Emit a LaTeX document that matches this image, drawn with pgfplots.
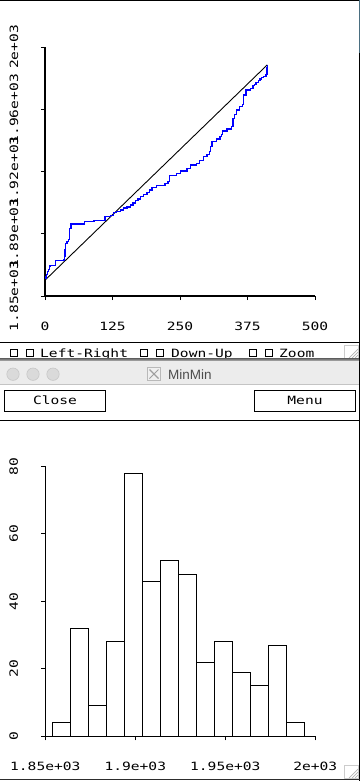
\documentclass[border=0pt]{standalone}
\usepackage{fontspec}
\usepackage{pgfplots}
\pgfplotsset{compat=1.18}
\setmainfont{DejaVu Sans Mono}[FakeStretch=1.28]
\newfontfamily\titlefont{Liberation Sans}
\newcommand\tk{\fontsize{11.4pt}{13pt}\selectfont}
\definecolor{tbar}{HTML}{ECECEC}
\definecolor{tline}{HTML}{C4C4C4}
\definecolor{circ}{HTML}{DADADA}
\definecolor{circline}{HTML}{C6C6C6}
\definecolor{ttext}{HTML}{4D4D4D}
\definecolor{edgeblue}{HTML}{4A6E80}
\begin{document}
\begin{tikzpicture}[x=1pt,y=1pt]
\useasboundingbox (0,0) rectangle (360,-781);
\fill[white] (0,0) rectangle (360,-781);
% window frame bits
\draw[black, line width=1.2pt] (0,-0.6) -- (360,-0.6);
\draw[edgeblue, line width=1pt] (359.5,0) -- (359.5,-53);
\draw[black, line width=1pt] (359.5,-53) -- (359.5,-781);

% ---------- top plot ----------
\begin{axis}[at={(45pt,-296pt)}, anchor=south west, scale only axis,
  width=270pt, height=249pt,
  xmin=0, xmax=500, ymin=1850, ymax=2000,
  axis x line*=bottom, axis y line*=left,
  axis line style={-},
  x axis line style={line width=1.5pt},
  y axis line style={line width=2pt},
  xtick={0,125,250,375,500}, xticklabels={0,125,250,375,500},
  ytick={1850,1887.5,1925,1962.5,2000},
  yticklabels={1.85e+03,1.89e+03,1.92e+03,1.96e+03,2e+03},
  tick align=outside, major tick length=4pt,
  tick style={black, line width=1pt},
  xticklabel style={anchor=center, yshift=-26.5pt, font=\tk},
  yticklabel style={anchor=center, xshift=-27pt, rotate=90, font=\tk},
  clip=false]
\addplot[black, line width=0.9pt] coordinates {(0,1859.5) (411.5,1989.2)};
\addplot[blue, line width=1.3pt, const plot] coordinates {
(0,1860.5) (2,1861.5) (3,1863) (4,1864.6) (6,1866.1) (8,1868) (10,1868.5)
(20,1871.3) (35,1871.7) (36,1873.7) (37,1878) (38,1881.7) (41,1883) (43,1884)
(45,1888) (46,1890.8) (48,1893.4) (72,1893.8) (73,1894.8) (91,1895.3)
(100,1895.6) (111,1897.8) (121,1898.6) (127,1900.2) (133,1901) (140,1901.8)
(146,1903) (152,1903.6) (158,1904.8) (163,1906) (168,1907.5) (172,1908.5)
(177,1909.8) (183,1911) (189,1912.2) (194,1913.9) (198,1915.2) (207,1916.5)
(222,1917.9) (228,1918.9) (231,1922.5) (244,1923.9) (251,1925.3) (263,1926.9)
(270,1928.9) (281,1929.9) (286,1931.7) (293,1933.9) (300,1935.4) (305,1936.9)
(307,1940) (309,1943) (318,1944.6) (324,1946) (327,1947.5) (329,1949.4)
(337,1950.6) (345,1952) (348,1957) (351,1959.5) (354,1962) (360,1964)
(366,1965.5) (368,1971) (372,1974.1) (380,1975.1) (385,1976.7) (388,1977.6)
(391,1978.7) (395,1979.7) (398,1980.7) (401,1981.5) (404,1982.3) (409,1983.5)
(411,1987.5) (411.5,1989.2)};
\end{axis}

% ---------- checkbox row ----------
\draw[black, line width=1.2pt] (0,-342.5) -- (359,-342.5);
\foreach \bx in {10,26,140,156,249,265}{
  \draw[black, line width=1pt] (\bx+0.5,-349.5) rectangle (\bx+7.5,-356.5);
}
\node[anchor=base west, inner sep=0] at (40,-357.5) {\tk Left-Right};
\node[anchor=base west, inner sep=0] at (171,-357.5) {\tk Down-Up};
\node[anchor=base west, inner sep=0] at (279,-357.5) {\tk Zoom};
% resize grip (top)
\draw[gray!40, line width=0.8pt] (344.5,-345.5) rectangle (358.5,-358.5);
\foreach \d in {3,6,9}{\draw[gray!60, line width=0.7pt] (358-\d,-358) -- (358,-358+\d);}

% ---------- title bar ----------
\shade[top color=gray!80!black, bottom color=gray!55] (0,-358.3) rectangle (359,-361);
\fill[tbar] (0,-361) rectangle (359,-384.5);
\draw[tline, line width=1pt] (0,-384.5) -- (359,-384.5);
\foreach \cx in {13,33,53}{
  \filldraw[fill=circ, draw=circline, line width=0.6pt] (\cx,-374.2) circle (6.2);
}
\filldraw[fill=gray!12, draw=gray!55, line width=0.7pt] (147.5,-367.5) rectangle (160.5,-380.5);
\draw[gray!75, line width=1.2pt] (149.5,-369.5) -- (158.5,-378.5);
\draw[gray!75, line width=0.8pt] (158.5,-369.5) -- (149.5,-378.5);
\node[anchor=west, inner sep=0, text=ttext] at (168,-374.2) {\titlefont\fontsize{13.5pt}{15pt}\selectfont MinMin};

% ---------- buttons ----------
\draw[black, line width=1.2pt] (4.5,-390.5) rectangle (105.5,-411.5);
\draw[black, line width=1.2pt] (254.5,-390.5) rectangle (355.5,-411.5);
\node[anchor=base, inner sep=0] at (55,-404.3) {\tk Close};
\node[anchor=base, inner sep=0] at (305,-404.3) {\tk Menu};
\draw[black, line width=1.2pt] (0,-420.5) -- (359,-420.5);

% ---------- histogram ----------
\begin{axis}[at={(45.3pt,-736.3pt)}, anchor=south west, scale only axis,
  width=270pt, height=270pt,
  xmin=1850, xmax=2000, ymin=0, ymax=80,
  axis x line*=bottom, axis y line*=left,
  axis line style={-, line width=1pt},
  xtick={1850,1900,1950,2000},
  xticklabels={1.85e+03,1.9e+03,1.95e+03,2e+03},
  ytick={0,20,40,60,80}, yticklabels={0,20,40,60,80},
  tick align=outside, major tick length=4pt,
  tick style={black, line width=1pt},
  xticklabel style={anchor=center, yshift=-26.2pt, font=\tk},
  yticklabel style={anchor=center, xshift=-27.6pt, rotate=90, font=\tk},
  clip=false]
\addplot[ybar interval, draw=black, fill=white, line width=1pt] coordinates {
(1854,4) (1864,32) (1874,9) (1884,28) (1894,78) (1904,46) (1914,52)
(1924,48) (1934,22) (1944,28) (1954,19) (1964,15) (1974,27) (1984,4) (1994,4)};
\end{axis}

% bottom edge and grip
\draw[gray!35!black, line width=1.5pt] (0,-779.6) -- (360,-779.6);
\draw[gray!40, line width=0.8pt] (344.5,-765.5) rectangle (358.5,-778.5);
\foreach \d in {3,6,9}{\draw[gray!60, line width=0.7pt] (358-\d,-778) -- (358,-778+\d);}
\end{tikzpicture}
\end{document}
